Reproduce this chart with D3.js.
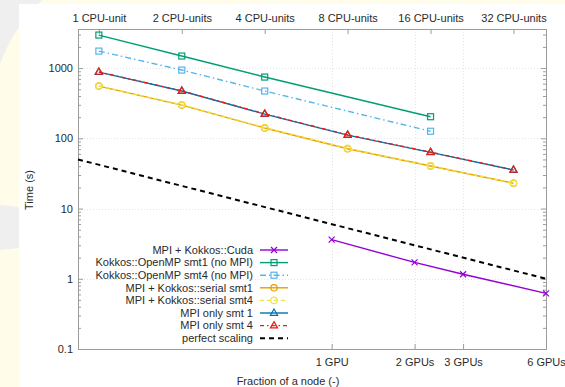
<!DOCTYPE html>
<html>
<head>
<meta charset="utf-8">
<script src="https://cdn.jsdelivr.net/npm/d3@7"></script>
<style>
  body { margin: 0; background: #fffce9; }
</style>
</head>
<body>
<script>
// axis ticks
var cpuUnits = [1, 2, 4, 8, 16, 32];
var cpuLabels = ["1 CPU-unit", "2 CPU-units", "4 CPU-units", "8 CPU-units", "16 CPU-units", "32 CPU-units"];
var gpuCounts = [1, 2, 3, 6];
var gpuLabels = ["1 GPU", "2 GPUs", "3 GPUs", "6 GPUs"];
var coresPerNode = 42, gpusPerNode = 6;
var yMajor = [0.1, 1, 10, 100, 1000];
var yLabels = ["0.1", "1", "10", "100", "1000"];

// series (time in s)
var cudaGpus = [1, 2, 3, 6];
var cudaTime = [3.6, 1.71, 1.16, 0.62];
var ompUnits = [1, 2, 4, 16];
var ompSmt1Time = [2950, 1483, 745, 203];
var ompSmt4Time = [1745, 937, 471, 126];
var serialUnits = [1, 2, 4, 8, 16, 32];
var serialSmt1Time = [554, 297, 140, 71, 40.3, 22.9];
var serialSmt4Time = [556, 300, 142, 72, 40.6, 23.1];
var mpiUnits = [1, 2, 4, 8, 16, 32];
var mpiSmt1Time = [877, 471, 221, 111, 63, 35.3];
var mpiSmt4Time = [880, 473, 223, 112, 63.5, 35.5];
var perfectFrac = [0.02, 1];
var perfectTime = [50, 1];

var W = 565, H = 387,
plot = {left: 78, right: 546, top: 29, bottom: 349},
font = {family: "'Liberation Sans', Arial, sans-serif", size: "11px"},
col = {frame: "#9c9c9c", grid: "#e4e4e4", text: "#2a2a2a"};

var series = [
    {name: "MPI + Kokkos::Cuda", frac: cudaGpus.map(g => g / gpusPerNode), t: cudaTime, color: "#9400d3", dash: null, marker: "cross"},
    {name: "Kokkos::OpenMP smt1 (no MPI)", frac: ompUnits.map(c => c / coresPerNode), t: ompSmt1Time, color: "#009e73", dash: null, marker: "square"},
    {name: "Kokkos::OpenMP smt4 (no MPI)", frac: ompUnits.map(c => c / coresPerNode), t: ompSmt4Time, color: "#56b4e9", dash: "6,3,1.5,3", marker: "square"},
    {name: "MPI + Kokkos::serial smt1", frac: serialUnits.map(c => c / coresPerNode), t: serialSmt1Time, color: "#e69f00", dash: null, marker: "circle"},
    {name: "MPI + Kokkos::serial smt4", frac: serialUnits.map(c => c / coresPerNode), t: serialSmt4Time, color: "#f0e442", dash: "4,3", marker: "circle"},
    {name: "MPI only smt 1", frac: mpiUnits.map(c => c / coresPerNode), t: mpiSmt1Time, color: "#0072b2", dash: null, marker: "tri"},
    {name: "MPI only smt 4", frac: mpiUnits.map(c => c / coresPerNode), t: mpiSmt4Time, color: "#e51e10", dash: "4,3,1.5,3", marker: "tri"},
    {name: "perfect scaling", frac: perfectFrac, t: perfectTime, color: "#000000", dash: "5,4", marker: null, width: 2}
];

var svg = d3.select("body").append("svg")
    .attr("width", W)
    .attr("height", H)
    .style("display", "block");

// slide background
svg.append("rect").attr("width", W).attr("height", H).attr("fill", "#fffce9");
svg.append("path").attr("d", "M0,0 L42,0 Q14,26 0,64 Z").attr("fill", "#efefef");
svg.append("path").attr("d", "M0,205 Q10,206 19,207 L19,248 Q10,249 0,250 Z").attr("fill", "#efefef");
svg.append("rect").attr("x", 19).attr("y", 4).attr("width", W - 19).attr("height", H - 4).attr("fill", "white");

var x = d3.scaleLog().domain([0.02, 1]).range([plot.left, plot.right]);
var y = d3.scaleLog().domain([0.1, 3600]).range([plot.bottom, plot.top]);

var minors = [];
yMajor.forEach(function(m) {
    for (var k = 2; k <= 9; k++) if (m * k < 3600) minors.push(m * k);
});

// grid
var grid = svg.append("g").attr("stroke", col.grid).attr("stroke-width", 1).attr("stroke-dasharray", "1,2");
grid.selectAll(".hg").data(yMajor.slice(1)).enter().append("line")
    .attr("x1", plot.left).attr("x2", plot.right)
    .attr("y1", d => Math.round(y(d)) + 0.5).attr("y2", d => Math.round(y(d)) + 0.5);
grid.selectAll(".vg").data(gpuCounts.slice(0, 3)).enter().append("line")
    .attr("x1", d => Math.round(x(d / gpusPerNode)) + 0.5).attr("x2", d => Math.round(x(d / gpusPerNode)) + 0.5)
    .attr("y1", plot.top).attr("y2", plot.bottom);

// axes
function styleAxis(g) {
    g.select(".domain").remove();
    g.selectAll("line").attr("stroke", col.frame);
    g.selectAll("text").attr("fill", col.text).attr("font-family", font.family).attr("font-size", font.size);
}

svg.append("g").attr("transform", "translate(" + plot.left + ",0)")
    .call(d3.axisLeft(y).tickValues(yMajor).tickFormat((d, i) => yLabels[i]).tickSize(-5).tickPadding(5))
    .call(styleAxis);
svg.append("g").attr("transform", "translate(" + plot.left + ",0)")
    .call(d3.axisLeft(y).tickValues(minors).tickFormat("").tickSize(-3))
    .call(styleAxis);
svg.append("g").attr("transform", "translate(" + plot.right + ",0)")
    .call(d3.axisRight(y).tickValues(yMajor).tickFormat("").tickSize(-5))
    .call(styleAxis);
svg.append("g").attr("transform", "translate(" + plot.right + ",0)")
    .call(d3.axisRight(y).tickValues(minors).tickFormat("").tickSize(-3))
    .call(styleAxis);

svg.append("g").attr("transform", "translate(0," + plot.bottom + ")")
    .call(d3.axisBottom(x).tickValues(gpuCounts.map(g => g / gpusPerNode)).tickFormat((d, i) => gpuLabels[i]).tickSize(-5).tickPadding(9))
    .call(styleAxis);
svg.append("g").attr("transform", "translate(0," + plot.top + ")")
    .call(d3.axisTop(x).tickValues(cpuUnits.map(c => c / coresPerNode)).tickFormat((d, i) => cpuLabels[i]).tickSize(-5).tickPadding(7))
    .call(styleAxis);

// frame
svg.append("rect")
    .attr("x", plot.left + 0.5).attr("y", plot.top + 0.5)
    .attr("width", plot.right - plot.left).attr("height", plot.bottom - plot.top)
    .attr("fill", "none").attr("stroke", col.frame);

// axis labels
svg.append("text")
    .attr("transform", "translate(33,190) rotate(-90)")
    .attr("text-anchor", "middle")
    .attr("font-family", font.family).attr("font-size", font.size).attr("fill", col.text)
    .text("Time (s)");
svg.append("text")
    .attr("x", 288).attr("y", 385)
    .attr("text-anchor", "middle")
    .attr("font-family", font.family).attr("font-size", font.size).attr("fill", col.text)
    .text("Fraction of a node (-)");

function drawMarker(g, type, cx, cy, color) {
    if (type === "square") {
        g.append("rect").attr("x", cx - 3).attr("y", cy - 3).attr("width", 6).attr("height", 6)
            .attr("fill", "none").attr("stroke", color).attr("stroke-width", 1.2);
    } else if (type === "circle") {
        g.append("circle").attr("cx", cx).attr("cy", cy).attr("r", 3.2)
            .attr("fill", "none").attr("stroke", color).attr("stroke-width", 1.2);
    } else if (type === "tri") {
        g.append("path").attr("d", "M" + cx + "," + (cy - 4) + " L" + (cx + 3.6) + "," + (cy + 2.3) + " L" + (cx - 3.6) + "," + (cy + 2.3) + " Z")
            .attr("fill", "none").attr("stroke", color).attr("stroke-width", 1.2);
    } else if (type === "cross") {
        g.append("path").attr("d", "M" + (cx - 3) + "," + (cy - 3) + " L" + (cx + 3) + "," + (cy + 3) + " M" + (cx - 3) + "," + (cy + 3) + " L" + (cx + 3) + "," + (cy - 3))
            .attr("stroke", color).attr("stroke-width", 1.2);
    }
}

// series
var line = d3.line().x(d => x(d[0])).y(d => y(d[1]));
var plotArea = svg.append("g");
series.forEach(function(s) {
    var pts = s.frac.map((f, i) => [f, s.t[i]]);
    var g = plotArea.append("g");
    g.append("path")
        .attr("d", line(pts))
        .attr("fill", "none")
        .attr("stroke", s.color)
        .attr("stroke-width", s.width || 1.4)
        .attr("stroke-dasharray", s.dash);
    if (s.marker) pts.forEach(p => drawMarker(g, s.marker, x(p[0]), y(p[1]), s.color));
});

// legend
var legend = svg.append("g");
series.forEach(function(s, i) {
    var ly = 250 + i * 12.6;
    legend.append("text")
        .attr("x", 253).attr("y", ly).attr("dy", "0.35em")
        .attr("text-anchor", "end")
        .attr("font-family", font.family).attr("font-size", font.size).attr("fill", col.text)
        .text(s.name);
    legend.append("line")
        .attr("x1", 260).attr("x2", 288).attr("y1", ly).attr("y2", ly)
        .attr("stroke", s.color).attr("stroke-width", s.width || 1.4)
        .attr("stroke-dasharray", s.dash);
    if (s.marker) drawMarker(legend, s.marker, 274, ly, s.color);
});
</script>
</body>
</html>
